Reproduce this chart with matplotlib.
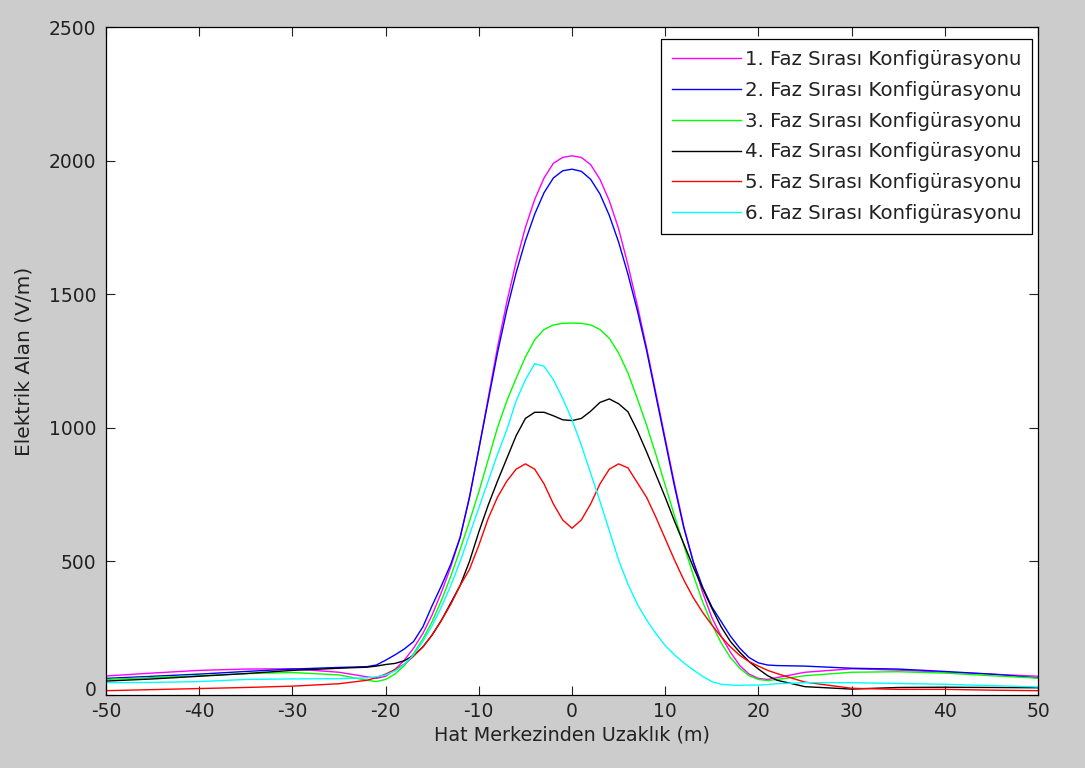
import matplotlib
matplotlib.use("Agg")
import matplotlib.pyplot as plt
from matplotlib.transforms import ScaledTranslation

plt.rcParams['font.family'] = ['DejaVu Sans']
plt.rcParams['axes.unicode_minus'] = False

# distance from line centre (m)
x = [-50, -45, -40, -35, -30, -25, -22, -21,
     -20, -19, -18, -17, -16, -15, -14, -13, -12, -11,
     -10, -9, -8, -7, -6, -5, -4, -3, -2, -1,
     0, 1, 2, 3, 4, 5, 6, 7, 8, 9,
     10, 11, 12, 13, 14, 15, 16, 17, 18, 19,
     20, 21, 22, 25, 30, 35, 40, 45, 50]

# electric field (V/m) for each phase sequence
faz1 = [71, 82, 92, 97, 98, 85, 68, 62,
        70, 95, 130, 175, 230, 300, 385, 480, 590, 740,
        920, 1110, 1300, 1470, 1620, 1750, 1855, 1935, 1990, 2012,
        2018, 2012, 1985, 1930, 1850, 1745, 1610, 1460, 1300, 1130,
        960, 790, 630, 500, 385, 290, 220, 160, 110, 78,
        62, 58, 65, 85, 98, 93, 85, 78, 70]
faz2 = [62, 70, 78, 88, 97, 103, 106, 112,
        130, 150, 172, 200, 255, 335, 410, 490, 590, 740,
        920, 1100, 1280, 1440, 1580, 1700, 1800, 1880, 1935, 1962,
        1968, 1960, 1930, 1875, 1795, 1695, 1575, 1440, 1290, 1120,
        950, 780, 625, 500, 405, 330, 275, 220, 175, 140,
        120, 112, 110, 108, 100, 97, 88, 78, 64]
faz3 = [58, 65, 72, 80, 84, 75, 55, 50,
        58, 78, 110, 155, 210, 275, 355, 445, 545, 650,
        760, 880, 1000, 1100, 1185, 1265, 1330, 1368, 1385, 1391,
        1392, 1391, 1385, 1368, 1335, 1280, 1205, 1110, 1010, 900,
        785, 670, 560, 450, 350, 265, 195, 140, 100, 72,
        58, 54, 58, 72, 85, 87, 82, 72, 63]
faz4 = [52, 60, 70, 80, 92, 100, 104, 108,
        114, 118, 128, 148, 180, 225, 280, 345, 410, 500,
        610, 710, 800, 885, 970, 1035, 1058, 1058, 1045, 1030,
        1027, 1035, 1062, 1095, 1108, 1090, 1060, 990, 910, 825,
        740, 650, 565, 480, 400, 325, 255, 200, 160, 125,
        97, 72, 55, 31, 22, 28, 29, 28, 27]
faz5 = [16, 20, 24, 28, 33, 42, 55, 65,
        78, 95, 115, 145, 180, 225, 280, 340, 410, 470,
        560, 660, 740, 800, 845, 865, 845, 790, 715, 655,
        624, 655, 715, 790, 845, 865, 850, 795, 740, 665,
        585, 505, 430, 365, 310, 262, 218, 180, 148, 125,
        108, 92, 80, 48, 25, 21, 21, 18, 16]
faz6 = [46, 47, 50, 58, 60, 61, 64, 68,
        75, 90, 115, 150, 200, 260, 330, 410, 500, 600,
        700, 800, 900, 992, 1100, 1180, 1240, 1230, 1180, 1110,
        1030, 935, 830, 725, 615, 505, 415, 340, 281, 230,
        185, 150, 120, 94, 70, 50, 40, 37, 36, 37,
        37, 39, 42, 46, 46, 43, 40, 35, 30]

series = [faz1, faz2, faz3, faz4, faz5, faz6]
labels = [f"{i}. Faz Sırası Konfigürasyonu" for i in range(1, 7)]
colors = ['#ff00ff', '#0000ff', '#00ff00', '#000000', '#ff0000', '#00ffff']

fig = plt.figure(figsize=(10.85, 7.68), dpi=100, facecolor='#cccccc')
ax = fig.add_axes([0.0977, 0.0951, 0.8590, 0.8697])
ax.set_facecolor('white')

for y, lab, c in zip(series, labels, colors):
    ax.plot(x, y, color=c, lw=1.0, label=lab)

ax.set_xlim(-50, 50)
ax.set_ylim(0, 2500)
ax.set_xticks(range(-50, 51, 10))
ax.set_yticks(range(0, 2501, 500))
ax.tick_params(direction='in', length=6.5, width=0.8, top=True, right=True,
               labelsize=13.5, colors='#222222', pad=5)
ax.tick_params(axis='y', pad=7)
for s in ax.spines.values():
    s.set_linewidth(0.9)

# lift the "0" label a little so it clears the "-50" below it
ylabs = ax.get_yticklabels()
ylabs[0].set_transform(ylabs[0].get_transform()
                       + ScaledTranslation(0, 5 / 72, fig.dpi_scale_trans))

ax.set_xlabel("Hat Merkezinden Uzaklık (m)", fontsize=13.8, labelpad=3, color='#222222')
ax.set_ylabel("Elektrik Alan (V/m)", fontsize=14.5, labelpad=11, color='#222222')

leg = ax.legend(loc='upper right', bbox_to_anchor=(0.9936, 0.982), borderaxespad=0,
                fontsize=14.2, fancybox=False, framealpha=1, edgecolor='black',
                handlelength=3.5, handletextpad=0.2, labelspacing=0.6,
                borderpad=0.55)
leg.get_frame().set_linewidth(0.9)
for t in leg.get_texts():
    t.set_color('#222222')

fig.savefig("out.png", dpi=100, facecolor=fig.get_facecolor())
